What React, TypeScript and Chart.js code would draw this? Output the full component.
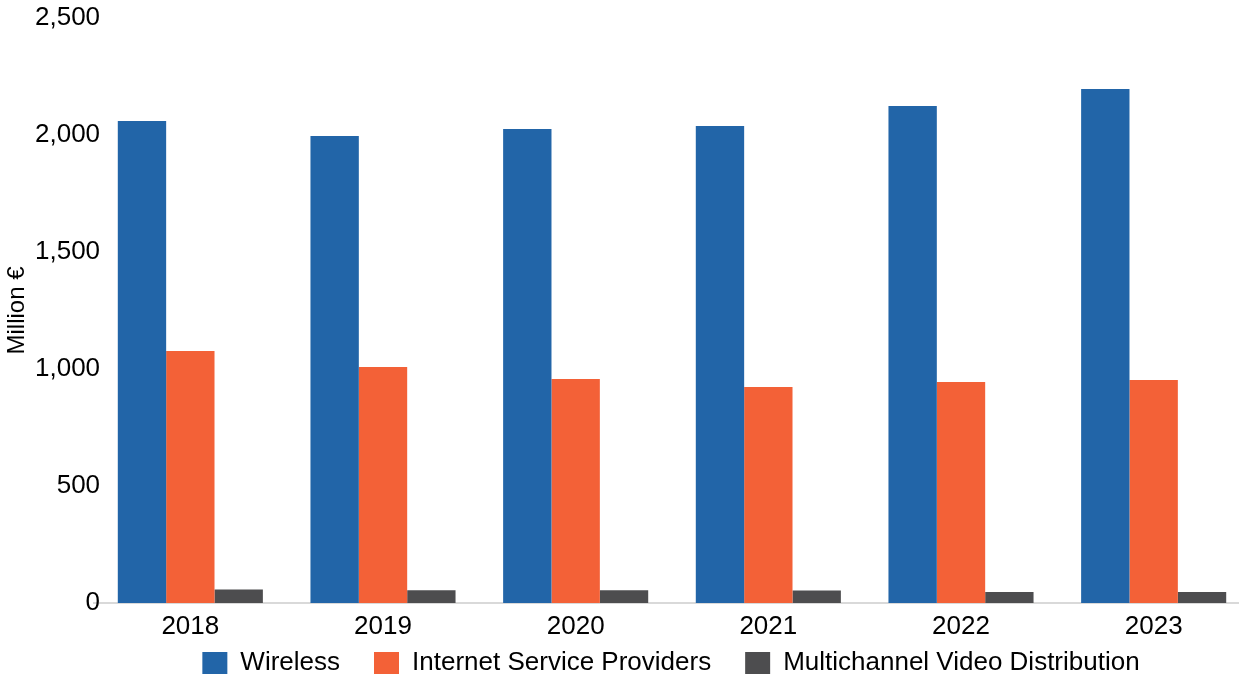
import React, { useEffect, useRef } from "react";
import { Chart, registerables } from "chart.js";

Chart.register(...registerables);

const categories = ["2018", "2019", "2020", "2021", "2022", "2023"];
const wireless = [2060, 1996, 2026, 2038, 2124, 2197];
const isp = [1077, 1009, 957, 923, 944, 953];
const mvd = [58, 55, 54, 53, 47, 47];
const seriesNames = ["Wireless", "Internet Service Providers", "Multichannel Video Distribution"];
const seriesColors = ["#2265A8", "#F36137", "#4D4D4F"];

const FONT = "'Liberation Sans', Arial, sans-serif";

export default function App() {
  const ref = useRef<HTMLCanvasElement | null>(null);
  useEffect(() => {
    if (!ref.current) return;
    const chart = new Chart(ref.current, {
      type: "bar",
      data: {
        labels: categories,
        datasets: [wireless, isp, mvd].map((d, i) => ({
          label: seriesNames[i],
          data: d,
          backgroundColor: seriesColors[i],
          borderWidth: 0,
          categoryPercentage: 0.753,
          barPercentage: 1.0,
        })),
      },
      options: {
        responsive: false,
        animation: false,
        layout: { padding: { top: 18, left: 0, right: 0, bottom: -7 } },
        plugins: {
          tooltip: { enabled: false },
          legend: {
            position: "bottom",
            labels: {
              font: { family: FONT, size: 26 },
              color: "#000",
              boxWidth: 25,
              boxHeight: 22,
              padding: 34,
            },
          },
        },
        scales: {
          x: {
            grid: { display: false, drawTicks: false },
            border: { display: true, color: "#D9D9D9", width: 2 },
            ticks: { font: { family: FONT, size: 26 }, color: "#000", mirror: true, padding: -39, maxRotation: 0 },
            afterFit: (s: any) => { s.height = 13; },
          },
          y: {
            min: 0,
            max: 2500,
            grid: { display: false, drawTicks: false },
            border: { display: false },
            ticks: {
              stepSize: 500,
              font: { family: FONT, size: 26 },
              color: "#000",
              mirror: true,
              crossAlign: "far",
              padding: -59,
              callback: (v: any) => Number(v).toLocaleString("en-US"),
            },
            title: {
              display: true,
              text: "Million €",
              font: { family: FONT, size: 24 },
              color: "#000",
              padding: { top: 3, bottom: 0 },
            },
            afterFit: (s: any) => { s.width = 94; },
          },
          y2: {
            position: "right",
            display: true,
            grid: { display: false, drawTicks: false },
            border: { display: false },
            ticks: { display: false },
            afterFit: (s: any) => { s.width = 92; },
          },
        },
      },
    });
    return () => chart.destroy();
  }, []);
  return (
    <div style={{ position: "fixed", left: 0, top: 0, width: 1239, height: 679, overflow: "hidden", background: "#fff" }}>
      <canvas ref={ref} width={1342} height={679} style={{ width: 1342, height: 679, display: "block" }} />
    </div>
  );
}
